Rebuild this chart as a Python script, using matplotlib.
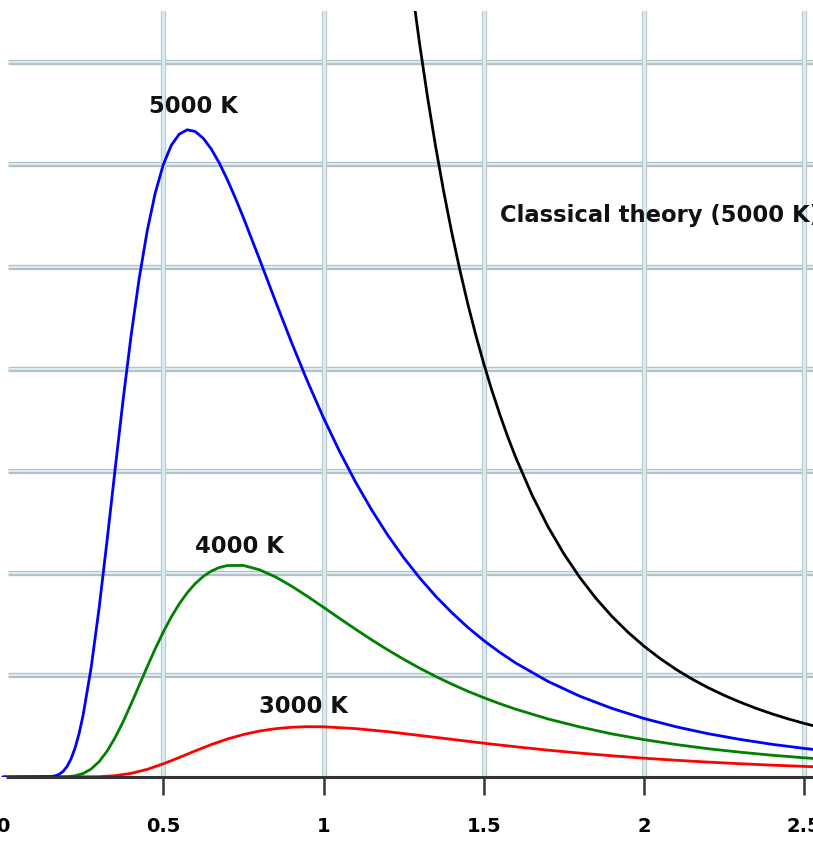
import matplotlib.pyplot as plt

# wavelength (um) and spectral radiance
wl_5000 = [0.0, 0.15, 0.1625, 0.175, 0.1875, 0.2, 0.2125, 0.225, 0.2375, 0.25, 0.275, 0.3,
           0.325, 0.35, 0.375, 0.4, 0.425, 0.45, 0.475, 0.5, 0.525, 0.55, 0.575, 0.6, 0.625,
           0.65, 0.675, 0.7, 0.725, 0.75, 0.8, 0.85, 0.9, 0.95, 1.0, 1.05, 1.1, 1.15, 1.2,
           1.25, 1.3, 1.35, 1.4, 1.45, 1.5, 1.55, 1.6, 1.7, 1.8, 1.9, 2.0, 2.1, 2.2, 2.3,
           2.4, 2.5, 2.6]
rad_5000 = [0.0, 0.004, 0.011, 0.026, 0.055, 0.104, 0.179, 0.286, 0.427, 0.606, 1.071, 1.658,
            2.324, 3.020, 3.701, 4.331, 4.885, 5.350, 5.720, 5.997, 6.187, 6.297, 6.339, 6.322,
            6.255, 6.150, 6.013, 5.850, 5.671, 5.479, 5.074, 4.661, 4.258, 3.875, 3.518, 3.189,
            2.889, 2.617, 2.371, 2.149, 1.950, 1.771, 1.611, 1.466, 1.337, 1.221, 1.116, 0.937,
            0.791, 0.672, 0.573, 0.492, 0.424, 0.368, 0.320, 0.280, 0.245]

wl_4000 = [0.0, 0.2, 0.225, 0.25, 0.275, 0.3, 0.325, 0.35, 0.375, 0.4, 0.425, 0.45, 0.475,
           0.5, 0.525, 0.55, 0.575, 0.6, 0.625, 0.65, 0.675, 0.7, 0.75, 0.8, 0.85, 0.9, 0.95,
           1.0, 1.05, 1.1, 1.15, 1.2, 1.25, 1.3, 1.35, 1.4, 1.45, 1.5, 1.55, 1.6, 1.7, 1.8,
           1.9, 2.0, 2.1, 2.2, 2.3, 2.4, 2.5, 2.6]
rad_4000 = [0.0, 0.003, 0.012, 0.034, 0.078, 0.151, 0.254, 0.387, 0.543, 0.717, 0.898, 1.080,
            1.256, 1.419, 1.567, 1.696, 1.805, 1.895, 1.965, 2.017, 2.052, 2.071, 2.072, 2.030,
            1.960, 1.870, 1.769, 1.662, 1.554, 1.447, 1.344, 1.246, 1.153, 1.066, 0.985, 0.910,
            0.840, 0.777, 0.718, 0.664, 0.569, 0.490, 0.422, 0.366, 0.318, 0.277, 0.243, 0.213,
            0.188, 0.166]

wl_3000 = [0.0, 0.3, 0.35, 0.4, 0.45, 0.5, 0.55, 0.6, 0.65, 0.7, 0.75, 0.8, 0.85, 0.9, 0.95,
           1.0, 1.1, 1.2, 1.3, 1.4, 1.5, 1.6, 1.7, 1.8, 1.9, 2.0, 2.1, 2.2, 2.3, 2.4, 2.5, 2.6]
rad_3000 = [0.0, 0.003, 0.013, 0.036, 0.075, 0.129, 0.191, 0.256, 0.318, 0.372, 0.416, 0.450,
            0.473, 0.487, 0.493, 0.492, 0.474, 0.444, 0.407, 0.369, 0.331, 0.296, 0.263, 0.234,
            0.208, 0.184, 0.164, 0.146, 0.130, 0.116, 0.104, 0.093]

wl_classic = [1.25, 1.275, 1.3, 1.325, 1.35, 1.375, 1.4, 1.425, 1.45, 1.475, 1.5, 1.525, 1.55,
              1.575, 1.6, 1.65, 1.7, 1.75, 1.8, 1.85, 1.9, 1.95, 2.0, 2.05, 2.1, 2.15, 2.2,
              2.25, 2.3, 2.35, 2.4, 2.45, 2.5, 2.55, 2.6]
rad_classic = [8.397, 7.757, 7.178, 6.651, 6.172, 5.735, 5.336, 4.972, 4.637, 4.331, 4.049,
               3.790, 3.552, 3.331, 3.128, 2.766, 2.454, 2.186, 1.953, 1.750, 1.573, 1.418,
               1.281, 1.161, 1.054, 0.959, 0.875, 0.800, 0.733, 0.672, 0.618, 0.569, 0.525,
               0.485, 0.449]

x_ticks = [0, 0.5, 1, 1.5, 2, 2.5]
x_tick_labels = ["0", "0.5", "1", "1.5", "2", "2.5"]
y_grid = [1, 2, 3, 4, 5, 6, 7]

fig = plt.figure(figsize=(8.13, 8.42), dpi=100)
ax = fig.add_axes([0, 65 / 842, 1, 766 / 842])
ax.set_xlim(-3 / 320.5, 810 / 320.5)
ax.set_ylim(0, 766 / 102.1)

# doubled grid lines: grey edge, pale blue middle
for y in y_grid:
    ax.hlines(y, 0.016, 2.6, color="#b4c2c8", lw=3.8, zorder=1)
    ax.hlines(y, 0.016, 2.6, color="#dcedf3", lw=1.4, zorder=1)
for x in x_ticks[1:]:
    ax.vlines(x, 0, 8, color="#bccbd0", lw=3.8, zorder=1)
    ax.vlines(x, 0, 8, color="#d9edf5", lw=2.0, zorder=1)

line_kw = dict(lw=2.0, zorder=3, solid_joinstyle="round", solid_capstyle="round")
ax.plot(wl_classic, rad_classic, color="black", **line_kw)
ax.plot(wl_3000, rad_3000, color="#ff0000", **line_kw)
ax.plot(wl_4000, rad_4000, color="#008000", **line_kw)
ax.plot(wl_5000, rad_5000, color="#0000ff", **line_kw)

ax.hlines(0, 0.008, 2.6, color="#333333", lw=2.2, zorder=4, clip_on=False)

for s in ax.spines.values():
    s.set_visible(False)
ax.set_yticks([])
ax.set_xticks(x_ticks)
ax.set_xticklabels(x_tick_labels, fontweight="bold")
ax.tick_params(axis="x", direction="out", length=13, width=1.8, color="#333333",
               pad=16, labelsize=14)
ax.xaxis.get_major_ticks()[0].tick1line.set_visible(False)

lab = dict(fontsize=16.3, fontweight="bold", color="#111111", va="baseline", zorder=5)
ax.text(0.593, 6.50, "5000 K", ha="center", **lab)
ax.text(0.739, 2.19, "4000 K", ha="center", **lab)
ax.text(0.936, 0.627, "3000 K", ha="center", **lab)
ax.text(1.551, 5.44, "Classical theory (5000 K)", ha="left", **lab)

plt.savefig("out.png", dpi=100)
